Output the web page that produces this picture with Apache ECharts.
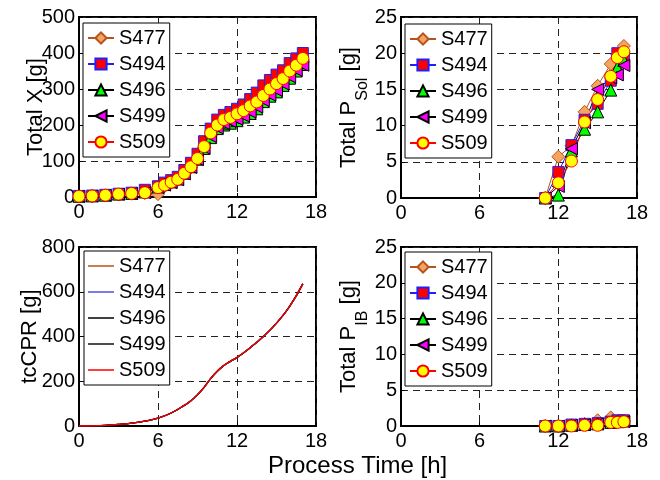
<!DOCTYPE html>
<html>
<head>
<meta charset="utf-8">
<script src="https://cdn.jsdelivr.net/npm/echarts@6/dist/echarts.min.js"></script>
<style>
  html, body { margin: 0; padding: 0; background: #fff; }
  #chart { width: 660px; height: 480px; }
</style>
</head>
<body>
<div id="chart"></div>
<script>
const names = ["S477", "S494", "S496", "S499", "S509"];

// Total X [g]
const timeX = [0, 1, 2, 3, 4, 5, 6, 6.5, 7, 7.5, 8, 8.5, 9, 9.5, 10, 10.5, 11, 11.5, 12, 12.5, 13, 13.5, 14, 14.5, 15, 15.5, 16, 16.5, 17];
const totalX = [
    [1, 2, 4, 7, 9, 11, 8, 30, 40, 48, 65, 82, 105, 138, 170, 195, 210, 215, 220, 228, 242, 255, 272, 290, 300, 318, 340, 355, 375],
    [3, 4, 6, 9, 12, 20, 30, 40, 47, 56, 75, 95, 120, 155, 190, 215, 228, 236, 245, 257, 272, 290, 310, 325, 340, 352, 372, 385, 400],
    [2, 3, 5, 8, 10, 14, 28, 35, 42, 50, 66, 84, 105, 135, 165, 190, 200, 205, 212, 222, 232, 245, 265, 280, 292, 310, 330, 350, 368],
    [2, 3, 5, 8, 10, 12, 26, 33, 40, 48, 64, 82, 104, 136, 168, 192, 204, 210, 216, 225, 236, 250, 268, 283, 296, 314, 334, 352, 366],
    [2, 3, 5, 8, 10, 12, 26, 33, 41, 49, 66, 84, 107, 140, 178, 200, 215, 221, 231, 240, 253, 264, 282, 300, 315, 329, 350, 366, 385]
];

// Total P_Sol [g]
const timeP = [11, 12, 13, 14, 15, 16, 16.5, 17];
const totalPSol = [
    [0, 5.7, 7.2, 11.9, 15.5, 18.5, 19.8, 21.0],
    [0, 3.6, 7.3, 10.8, 13.0, 16.2, 20.0, 19.5],
    [0, 0.4, 6.5, 9.5, 11.9, 14.9, 18.0, 19.0],
    [0, 1.6, 6.8, 10.4, 15.0, 16.6, 17.0, 18.3],
    [0, 2.1, 5.1, 10.5, 13.6, 16.8, 19.4, 20.2]
];

// Total P_IB [g]
const totalPIB = [
    [0, 0, 0.1, 0.3, 0.8, 1.2, 0.6, 0.7],
    [0, 0, 0.2, 0.3, 0.4, 0.6, 0.8, 0.8],
    [0, 0, 0.1, 0.2, 0.3, 0.5, 0.6, 0.7],
    [0, 0, 0.1, 0.2, 0.3, 0.5, 0.6, 0.6],
    [0, 0, 0, 0.1, 0.1, 0.5, 0.5, 0.6]
];

// tcCPR [g] (all five runs lie on top of each other)
const timeCPR = [0, 1, 2, 3, 4, 5, 6, 7, 8, 8.5, 9, 9.5, 10, 10.5, 11, 11.5, 12, 13, 14, 15, 16, 17];
const tcCPR = [0, 1, 3, 7, 13, 22, 35, 58, 92, 113, 140, 173, 212, 245, 270, 289, 306, 350, 400, 460, 535, 635];

const lineColors = ["#b5541c", "#2020ff", "#000000", "#000000", "#ff0000"];
const fillColors = ["#f4a460", "#ff0000", "#00ff00", "#ff00ff", "#ffff00"];
const cprColors = ["#b5541c", "#5050e0", "#000000", "#101010", "#ff0000"];
const symbols = ["diamond", "rect", "triangle", "triangle", "circle"];
const symbolRot = [0, 0, 0, 90, 0];
const symbolSizes = [13, 11, 12, 12, 12];

const FONT = "Liberation Sans";

const chart = echarts.init(document.getElementById("chart"));

function pairs(xs, ys){
    return xs.map((x, i) => [x, ys[i]]);
}

function markerSeries(gridIndex, xs, values){
    return names.map((n, k) => ({
        name: n,
        type: "line",
        xAxisIndex: gridIndex,
        yAxisIndex: gridIndex,
        data: pairs(xs, values[k]),
        symbol: symbols[k],
        symbolRotate: symbolRot[k],
        symbolSize: symbolSizes[k],
        showAllSymbol: true,
        lineStyle: { color: lineColors[k], width: 1 },
        itemStyle: { color: fillColors[k], borderColor: lineColors[k], borderWidth: 1 },
        emphasis: { disabled: true },
        animation: false
    }));
}

const grids = [
    { left: 79, top: 17, width: 237, height: 180 },
    { left: 401, top: 17, width: 236, height: 181 },
    { left: 79, top: 247, width: 237, height: 179 },
    { left: 401, top: 247, width: 236, height: 179 }
].map(g => Object.assign(g, { show: true, borderColor: "#000", borderWidth: 2, backgroundColor: "#fff" }));

const splitLine = { show: true, lineStyle: { color: "#222", type: [7, 5], width: 1 } };

const xAxes = [0, 1, 2, 3].map(i => ({
    type: "value",
    gridIndex: i,
    min: 0, max: 18, interval: 6,
    axisLine: { show: true, lineStyle: { color: "#000", width: 2 } },
    axisTick: { show: true, inside: true, length: 4, lineStyle: { color: "#000" } },
    axisLabel: { color: "#000", fontSize: 20, fontFamily: FONT, margin: 5 },
    splitLine: splitLine
}));

const yMax = [500, 25, 800, 25];
const yInt = [100, 5, 200, 5];
const yNames = [
    "{a|Total X [g]}",
    "{c|Total P}{b|Sol}{c| [g]}",
    "{a|tcCPR [g]}",
    "{c|Total P}{b|IB}{c| [g]}"
];
const yGaps = [30, 30, 36, 30];

const yAxes = [0, 1, 2, 3].map(i => ({
    type: "value",
    gridIndex: i,
    min: 0, max: yMax[i], interval: yInt[i],
    name: yNames[i],
    nameLocation: "middle",
    nameGap: yGaps[i],
    nameRotate: 90,
    nameMoveOverlap: false,
    nameTextStyle: {
        rich: {
            a: { fontSize: 22, fontFamily: FONT, color: "#000", lineHeight: 26 },
            c: { fontSize: 22, fontFamily: FONT, color: "#000", lineHeight: 44 },
            b: { fontSize: 16, fontFamily: FONT, color: "#000", verticalAlign: "bottom", lineHeight: 16 }
        }
    },
    axisLine: { show: true, lineStyle: { color: "#000", width: 2 } },
    axisTick: { show: true, inside: true, length: 4, lineStyle: { color: "#000" } },
    axisLabel: { color: "#000", fontSize: 20, fontFamily: FONT, margin: 4 },
    splitLine: splitLine
}));

const cprSeries = names.map((n, k) => ({
    name: n + " ",
    type: "line",
    xAxisIndex: 2,
    yAxisIndex: 2,
    data: pairs(timeCPR, tcCPR),
    symbol: "none",
    smooth: 0.5,
    lineStyle: { color: cprColors[k], width: 1.3 },
    itemStyle: { color: cprColors[k] },
    emphasis: { disabled: true },
    animation: false
}));

function legendAt(left, top, data, lineOnly){
    const lg = {
        left: left, top: top,
        orient: "vertical",
        data: data,
        selectedMode: false,
        itemWidth: 26,
        itemHeight: 14,
        itemGap: 6,
        padding: [5, 4, 5, 4],
        backgroundColor: "#fff",
        borderColor: "#000",
        borderWidth: 1,
        z: 10,
        formatter: name => name.trim(),
        textStyle: { fontSize: 20, fontFamily: FONT, color: "#000", height: 20 }
    };
    if(lineOnly){
        lg.icon = "rect";
        lg.itemHeight = 1.5;
    }
    return lg;
}

chart.setOption({
    animation: false,
    grid: grids,
    xAxis: xAxes,
    yAxis: yAxes,
    legend: [
        legendAt(83, 23, names, false),
        legendAt(405, 24, names, false),
        legendAt(84, 251, names.map(n => n + " "), true),
        legendAt(405, 252, names, false)
    ],
    graphic: [{
        type: "text",
        left: 268,
        top: 454,
        style: { text: "Process Time [h]", fontSize: 24, fontFamily: FONT, fill: "#000" }
    }],
    series: [].concat(
        markerSeries(0, timeX, totalX),
        markerSeries(1, timeP, totalPSol),
        cprSeries,
        markerSeries(3, timeP, totalPIB)
    )
});
</script>
</body>
</html>
